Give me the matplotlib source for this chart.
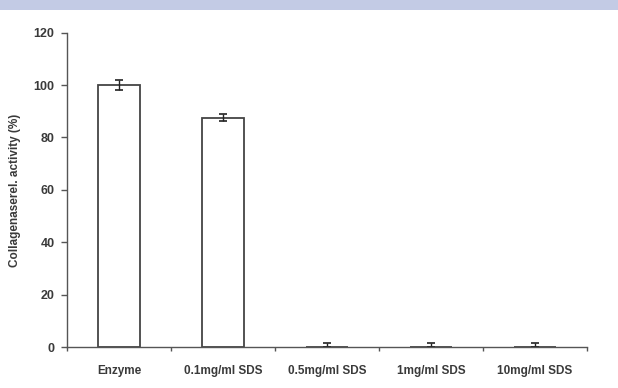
import matplotlib
matplotlib.use("Agg")
import matplotlib.pyplot as plt
from matplotlib.patches import Rectangle
import numpy as np

plt.rcParams["font.family"] = ["Liberation Sans", "DejaVu Sans"]

# Data
categories = ["Enzyme", "0.1mg/ml SDS", "0.5mg/ml SDS", "1mg/ml SDS", "10mg/ml SDS"]
activity = [100.0, 87.5, 0.0, 0.0, 0.0]
err_low = [2.0, 1.4, 0.0, 0.0, 0.0]
err_high = [2.0, 1.4, 1.6, 1.6, 1.6]
y_ticks = [0, 20, 40, 60, 80, 100, 120]

edge = "#444444"
text_col = "#3a3a3a"

fig = plt.figure(figsize=(6.18, 3.88), dpi=100)
# light banner strip along the top edge
fig.add_artist(Rectangle((0, 0.974), 1, 0.026, transform=fig.transFigure,
                         facecolor="#c3cbe5", edgecolor="none"))

ax = fig.add_axes([0.1084, 0.105, 0.8414, 0.811])
x = np.arange(len(categories))
ax.bar(x, activity, width=0.4, facecolor="white", edgecolor=edge, linewidth=1.3)
ax.errorbar(x, activity, yerr=[err_low, err_high], fmt="none", ecolor="#222222",
            elinewidth=1.0, capsize=3, capthick=1.2)

ax.set_xlim(-0.5, len(categories) - 0.5)
ax.set_ylim(0, 120)
ax.set_yticks(y_ticks)
ax.set_yticklabels([str(t) for t in y_ticks], color=text_col, fontsize=9,
                   fontweight="bold")

# ticks at category boundaries, labels at centres
ax.set_xticks(np.arange(len(categories) + 1) - 0.5)
ax.set_xticklabels([])
ax.set_xticks(x, minor=True)
ax.set_xticklabels(categories, minor=True, color=text_col, fontsize=8.5,
                   fontweight="bold")
ax.tick_params(axis="x", which="minor", length=0, pad=13)
ax.tick_params(axis="x", which="major", length=3, color="#555555", width=1)
ax.tick_params(axis="y", length=4, color="#555555", width=1, pad=5)

for side in ["top", "right"]:
    ax.spines[side].set_visible(False)
for side in ["left", "bottom"]:
    ax.spines[side].set_color("#555555")
    ax.spines[side].set_linewidth(1.0)

ax.set_ylabel("Collagenaserel. activity (%)", color=text_col, fontsize=8.5,
              fontweight="bold", labelpad=9)

fig.savefig("out.png", dpi=100)
